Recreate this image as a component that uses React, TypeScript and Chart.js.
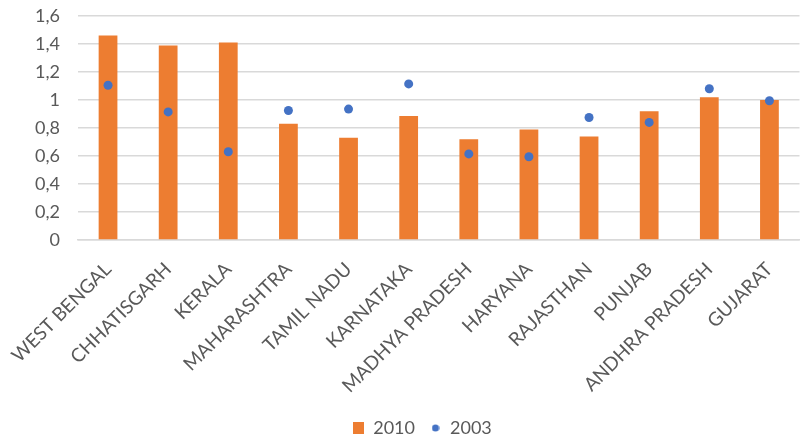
import React, { useEffect, useRef } from "react";
import { Chart, registerables } from "chart.js";
Chart.register(...registerables);

const categories = ["WEST BENGAL", "CHHATISGARH", "KERALA", "MAHARASHTRA", "TAMIL NADU", "KARNATAKA", "MADHYA PRADESH", "HARYANA", "RAJASTHAN", "PUNJAB", "ANDHRA PRADESH", "GUJARAT"];
const values2010 = [1.46, 1.39, 1.41, 0.83, 0.73, 0.885, 0.72, 0.79, 0.74, 0.92, 1.02, 1.0];
const values2003 = [1.105, 0.915, 0.63, 0.925, 0.935, 1.115, 0.615, 0.595, 0.875, 0.84, 1.08, 0.995];
const yTicks = [0, 0.2, 0.4, 0.6, 0.8, 1, 1.2, 1.4, 1.6];

const ORANGE = "#ED7D31";
const BLUE = "#4472C4";
const TEXT = "#595959";
const FONT = "Lato, 'Open Sans', sans-serif";

function makeIcon(kind: "rect" | "circle"): HTMLCanvasElement {
  const c = document.createElement("canvas");
  if (kind === "rect") {
    c.width = 11; c.height = 12;
    const g = c.getContext("2d")!;
    g.fillStyle = ORANGE; g.fillRect(0, 0, 11, 12);
  } else {
    c.width = 8; c.height = 8;
    const g = c.getContext("2d")!;
    g.fillStyle = BLUE; g.beginPath(); g.arc(4, 4, 3.6, 0, Math.PI * 2); g.fill();
  }
  return c;
}

const legendShift = {
  id: "legendShift",
  afterLayout(ch: any) {
    const lg = ch.legend;
    lg.left += 14; lg.right += 14;
    lg.top += 4; lg.bottom += 4;
  },
};

export default function App() {
  const ref = useRef<HTMLCanvasElement>(null);
  useEffect(() => {
    const rectIcon = makeIcon("rect");
    const dotIcon = makeIcon("circle");
    const chart = new Chart(ref.current!, {
      type: "bar",
      plugins: [legendShift],
      data: {
        labels: categories,
        datasets: [
          {
            type: "line",
            label: "2003",
            data: values2003,
            showLine: false,
            pointRadius: 4.5,
            pointBackgroundColor: BLUE,
            pointBorderColor: BLUE,
            pointBorderWidth: 0,
            backgroundColor: BLUE,
            borderColor: BLUE,
          } as any,
          {
            type: "bar",
            label: "2010",
            data: values2010,
            backgroundColor: ORANGE,
            barPercentage: 0.6,
            categoryPercentage: 0.52,
          } as any,
        ],
      },
      options: {
        animation: false,
        responsive: true,
        maintainAspectRatio: false,
        layout: { padding: { left: 17, right: 4, top: 0, bottom: 0 } },
        plugins: {
          tooltip: { enabled: false },
          legend: {
            position: "bottom",
            labels: {
              font: { family: FONT, size: 18 },
              color: TEXT,
              usePointStyle: true,
              boxWidth: 11,
              boxHeight: 12,
              padding: 15,
              generateLabels: (ch: any) => {
                const items = Chart.defaults.plugins.legend.labels.generateLabels(ch);
                items.forEach((it: any) => {
                  it.pointStyle = it.text === "2010" ? rectIcon : dotIcon;
                });
                items.sort((a: any) => (a.text === "2010" ? -1 : 1));
                return items;
              },
            },
          },
        },
        scales: {
          x: {
            grid: { display: false },
            border: { display: true, color: "#d9d9d9", width: 1.5 },
            afterFit: (axis: any) => {
              axis.paddingLeft = 0;
              axis.height = 160;
            },
            ticks: {
              color: TEXT,
              font: { family: FONT, size: 19 },
              minRotation: 45,
              maxRotation: 45,
              autoSkip: false,
              padding: 10,
            },
          },
          y: {
            min: 0,
            max: 1.6,
            afterBuildTicks: (axis: any) => {
              axis.ticks = yTicks.map((v) => ({ value: v }));
            },
            afterFit: (axis: any) => {
              axis.paddingTop = 16;
            },
            grid: { color: "#d9d9d9", lineWidth: 1.5, drawTicks: false },
            border: { display: false },
            ticks: {
              color: TEXT,
              font: { family: FONT, size: 18 },
              padding: 18,
              callback: (v: any) => String(Math.round(Number(v) * 10) / 10).replace(".", ","),
            },
          },
        },
      },
    });
    return () => chart.destroy();
  }, []);
  return (
    <div style={{ position: "fixed", left: 0, top: 0, width: 804, height: 443, background: "#fff" }}>
      <canvas ref={ref} />
    </div>
  );
}
